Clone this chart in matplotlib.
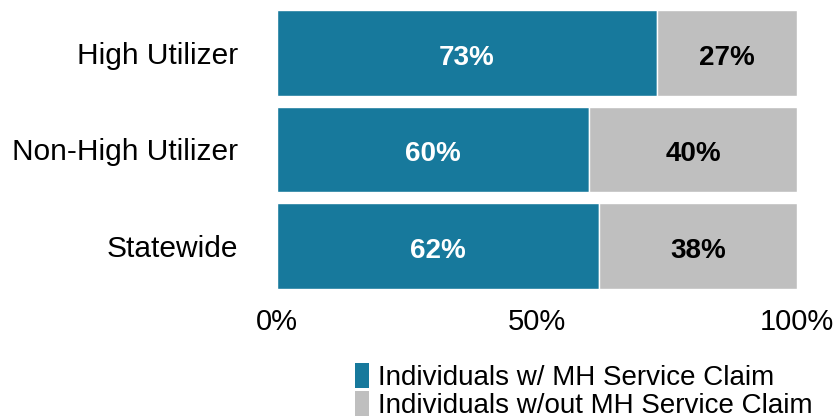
import matplotlib
matplotlib.use("Agg")
import matplotlib.pyplot as plt
from matplotlib.patches import Patch

categories = ["High Utilizer", "Non-High Utilizer", "Statewide"]
with_claim = [73, 60, 62]
without_claim = [27, 40, 38]
series_names = ["Individuals w/ MH Service Claim", "Individuals w/out MH Service Claim"]
xticks = [0, 50, 100]
xtick_labels = ["0%", "50%", "100%"]

teal = "#17799c"
gray = "#bfbfbf"

plt.rcParams["font.family"] = ["Liberation Sans", "DejaVu Sans"]

fig = plt.figure(figsize=(8.37, 4.19), dpi=100)
ax = fig.add_axes([277/837, 1-294.25/419, 520/837, (294.25-4.75)/419])

y = list(range(len(categories)))
h = 0.89
ax.barh(y, with_claim, height=h, color=teal, edgecolor="white", linewidth=1)
ax.barh(y, without_claim, left=with_claim, height=h, color=gray, edgecolor="white", linewidth=1)

for i in y:
    ax.text(with_claim[i]/2, i + 0.05, f"{with_claim[i]}%", ha="center", va="center",
            color="white", fontsize=20, fontweight="bold")
    ax.text(with_claim[i] + without_claim[i]/2, i + 0.05, f"{without_claim[i]}%", ha="center", va="center",
            color="black", fontsize=20, fontweight="bold")

ax.set_ylim(len(categories)-0.5, -0.5)
ax.set_xlim(0, 100)
ax.set_yticks(y)
ax.set_yticklabels(categories, fontsize=21.5)
ax.set_xticks(xticks)
ax.set_xticklabels(xtick_labels, fontsize=21)
ax.tick_params(axis="both", length=0)
ax.tick_params(axis="y", pad=28)
ax.tick_params(axis="x", pad=10)
for s in ax.spines.values():
    s.set_visible(False)

handles = [Patch(facecolor=teal, edgecolor="none"), Patch(facecolor=gray, edgecolor="none")]
fig.legend(handles, series_names, loc="upper left", bbox_to_anchor=(355/837, 1-363/419),
           frameon=False, fontsize=20, handlelength=0.5, handleheight=1.0,
           handletextpad=0.32, labelspacing=0.0, borderpad=0.0, borderaxespad=0.0)

fig.savefig("out.png", dpi=100)
